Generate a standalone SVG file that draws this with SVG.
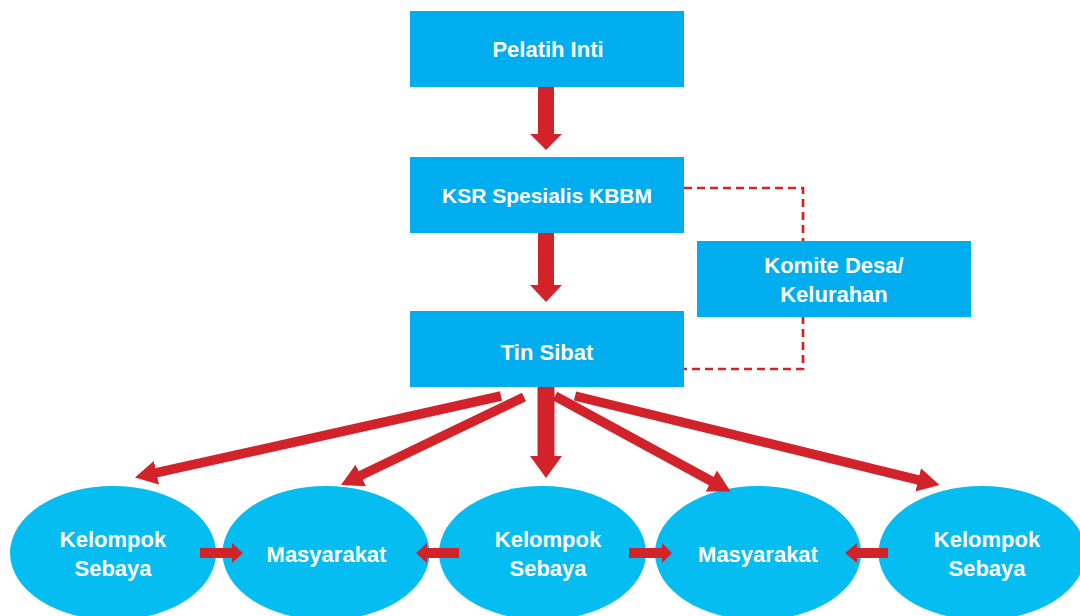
<svg xmlns="http://www.w3.org/2000/svg" width="1080" height="616" viewBox="0 0 1080 616">
<defs>
<style>
.box{fill:#00aeef}
.ell{fill:#05bdf1}
.t{font-family:"Liberation Sans",Arial,sans-serif;font-weight:bold;font-size:22px;fill:#ffffff;text-anchor:middle}
.arr{fill:#d2232a}
.dl{fill:none;stroke:#d2232a;stroke-width:9.5}
.dash{fill:none;stroke:#d2232a;stroke-width:2.7;stroke-dasharray:8 5}
</style>
<marker id="ah" markerUnits="userSpaceOnUse" viewBox="0 0 22 24" markerWidth="22" markerHeight="24" refX="2" refY="12" orient="auto">
<path d="M0,0 L22,12 L0,24 z" fill="#d2232a"/>
</marker>
</defs>
<rect width="1080" height="616" fill="#ffffff"/>
<g id="dashed-link">
<path class="dash" d="M684,188 H803 V369 H684"/>
</g>
<g id="pelatih-inti">
<rect class="box" x="410" y="11" width="274" height="76"/>
<text class="t" x="548" y="57">Pelatih Inti</text>
</g>
<g id="ksr-spesialis">
<rect class="box" x="410" y="157" width="274" height="76"/>
<text class="t" x="547" y="203" style="font-size:21px">KSR Spesialis KBBM</text>
</g>
<g id="tin-sibat">
<rect class="box" x="410" y="311" width="274" height="76"/>
<text class="t" x="547" y="360">Tin Sibat</text>
</g>
<g id="komite-desa">
<rect class="box" x="697" y="241" width="274" height="76"/>
<text class="t" x="834" y="273">Komite Desa/</text>
<text class="t" x="834" y="302">Kelurahan</text>
</g>
<g id="kelompok-sebaya-1">
<ellipse class="ell" cx="113" cy="553" rx="103" ry="67"/>
<text class="t" x="113" y="547">Kelompok</text>
<text class="t" x="113" y="576">Sebaya</text>
</g>
<g id="masyarakat-1">
<ellipse class="ell" cx="326" cy="553" rx="103.5" ry="67"/>
<text class="t" x="326.5" y="562">Masyarakat</text>
</g>
<g id="kelompok-sebaya-2">
<ellipse class="ell" cx="542.5" cy="553" rx="103.5" ry="67"/>
<text class="t" x="548" y="547">Kelompok</text>
<text class="t" x="548" y="576">Sebaya</text>
</g>
<g id="masyarakat-2">
<ellipse class="ell" cx="758" cy="553" rx="103" ry="67"/>
<text class="t" x="758" y="562">Masyarakat</text>
</g>
<g id="kelompok-sebaya-3">
<ellipse class="ell" cx="982" cy="553" rx="103.5" ry="67"/>
<text class="t" x="987" y="547">Kelompok</text>
<text class="t" x="987" y="576">Sebaya</text>
</g>
<g id="connectors">
<polygon class="arr" points="538,87 554,87 554,134 562,134 546,150 530,134 538,134"/>
<polygon class="arr" points="538,233 554,233 554,285 562,285 546,302 530,285 538,285"/>
<polygon class="arr" points="537.5,387 554.5,387 554.5,456 562,456 546,478 530,456 537.5,456"/>
<line class="dl" x1="501" y1="396" x2="154.5" y2="473.2" marker-end="url(#ah)"/>
<line class="dl" x1="524" y1="397" x2="359" y2="476.3" marker-end="url(#ah)"/>
<line class="dl" x1="555" y1="396" x2="713" y2="482" marker-end="url(#ah)"/>
<line class="dl" x1="575" y1="396" x2="920.1" y2="480.3" marker-end="url(#ah)"/>
<polygon class="arr" points="200,548 232,548 232,543 243,553 232,563 232,558 200,558"/>
<polygon class="arr" points="459,548 427,548 427,543 416,553 427,563 427,558 459,558"/>
<polygon class="arr" points="629,548 662,548 662,543 672,553 662,563 662,558 629,558"/>
<polygon class="arr" points="888,548 857,548 857,543 845,553 857,563 857,558 888,558"/>
</g>
</svg>
